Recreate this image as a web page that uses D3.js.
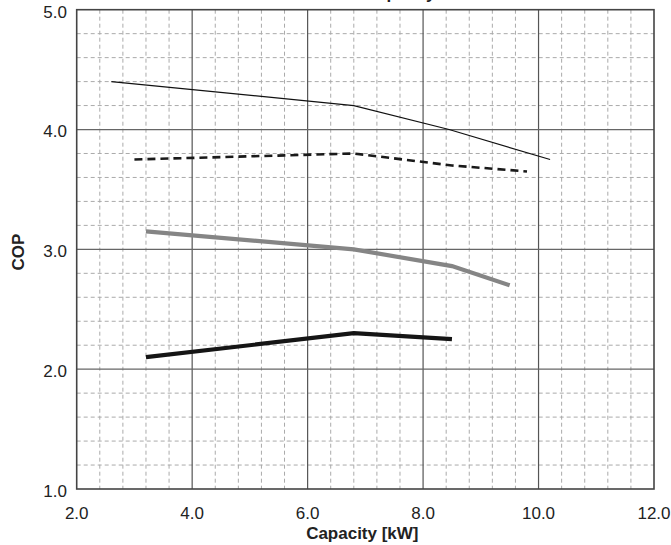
<!DOCTYPE html>
<html><head><meta charset="utf-8">
<script src="https://cdn.jsdelivr.net/npm/d3@7"></script>
<style>body{margin:0;background:#fff}svg{display:block}text{font-family:"Liberation Sans",Arial,sans-serif;fill:#222}</style>
</head><body>
<script>
const title = "COP vs. Capacity";
const xLabel = "Capacity [kW]";
const yLabel = "COP";
const xTicks = [2, 4, 6, 8, 10, 12];
const yTicks = [1, 2, 3, 4, 5];
const seriesThin = [[2.6, 4.4], [6.8, 4.2], [8.45, 4.0], [10.2, 3.75]];
const seriesDashed = [[3.0, 3.75], [6.8, 3.8], [8.5, 3.7], [9.8, 3.65]];
const seriesGray = [[3.2, 3.15], [6.8, 3.0], [8.5, 2.86], [9.5, 2.7]];
const seriesBold = [[3.2, 2.1], [6.8, 2.3], [8.5, 2.25]];

const W = 671, H = 545;
const svg = d3.select("body").append("svg").attr("width", W).attr("height", H);
const x = d3.scaleLinear().domain([2, 12]).range([76.7, 654]);
const y = d3.scaleLinear().domain([1, 5]).range([489, 9.7]);

// minor grid
const xMinor = d3.range(2, 12.001, 0.4).filter(v => Math.abs(v / 2 - Math.round(v / 2)) > 1e-6);
const yMinor = d3.range(1, 5.001, 0.2).filter(v => Math.abs(v - Math.round(v)) > 1e-6);
const g = svg.append("g");
g.selectAll(".vx").data(xMinor).join("line")
  .attr("x1", d => x(d)).attr("x2", d => x(d)).attr("y1", y(5)).attr("y2", y(1))
  .attr("stroke", "#aaa").attr("stroke-width", 1).attr("stroke-dasharray", "4,3");
g.selectAll(".vy").data(yMinor).join("line")
  .attr("y1", d => y(d)).attr("y2", d => y(d)).attr("x1", x(2)).attr("x2", x(12))
  .attr("stroke", "#aaa").attr("stroke-width", 1).attr("stroke-dasharray", "4,3");
// major grid
g.selectAll(".mx").data(xTicks.slice(1, -1)).join("line")
  .attr("x1", d => x(d)).attr("x2", d => x(d)).attr("y1", y(5)).attr("y2", y(1))
  .attr("stroke", "#555").attr("stroke-width", 1.2);
g.selectAll(".my").data(yTicks.slice(1, -1)).join("line")
  .attr("y1", d => y(d)).attr("y2", d => y(d)).attr("x1", x(2)).attr("x2", x(12))
  .attr("stroke", "#666").attr("stroke-width", 1.2);
// frame
svg.append("rect").attr("x", x(2)).attr("y", y(5)).attr("width", x(12) - x(2)).attr("height", y(1) - y(5))
  .attr("fill", "none").attr("stroke", "#444").attr("stroke-width", 1.6);

const line = d3.line().x(d => x(d[0])).y(d => y(d[1]));
svg.append("path").datum(seriesThin).attr("d", line).attr("fill", "none").attr("stroke", "#111").attr("stroke-width", 1.2);
svg.append("path").datum(seriesDashed).attr("d", line).attr("fill", "none").attr("stroke", "#1a1a1a").attr("stroke-width", 2.6).attr("stroke-dasharray", "8,5");
svg.append("path").datum(seriesGray).attr("d", line).attr("fill", "none").attr("stroke", "#858585").attr("stroke-width", 4.2);
svg.append("path").datum(seriesBold).attr("d", line).attr("fill", "none").attr("stroke", "#151515").attr("stroke-width", 4.2);

// tick labels
svg.selectAll(".xt").data(xTicks).join("text")
  .attr("x", d => x(d)).attr("y", 519).attr("text-anchor", "middle")
  .attr("font-size", 17).text(d => d.toFixed(1));
svg.selectAll(".yt").data(yTicks).join("text")
  .attr("x", 67).attr("y", d => y(d) + 2).attr("dy", "0.35em").attr("text-anchor", "end")
  .attr("font-size", 17).text(d => d.toFixed(1));

svg.append("text").attr("x", (x(2) + x(12)) / 2 - 3).attr("y", 539).attr("text-anchor", "middle")
  .attr("font-size", 17).attr("font-weight", "bold").text(xLabel);
svg.append("text").attr("transform", "translate(24,252) rotate(-90)").attr("text-anchor", "middle")
  .attr("font-size", 17).attr("font-weight", "bold").text(yLabel);
svg.append("text").attr("x", (x(2) + x(12)) / 2).attr("y", -1).attr("text-anchor", "middle")
  .attr("font-size", 17).attr("font-weight", "bold").text(title);
</script>
</body></html>
